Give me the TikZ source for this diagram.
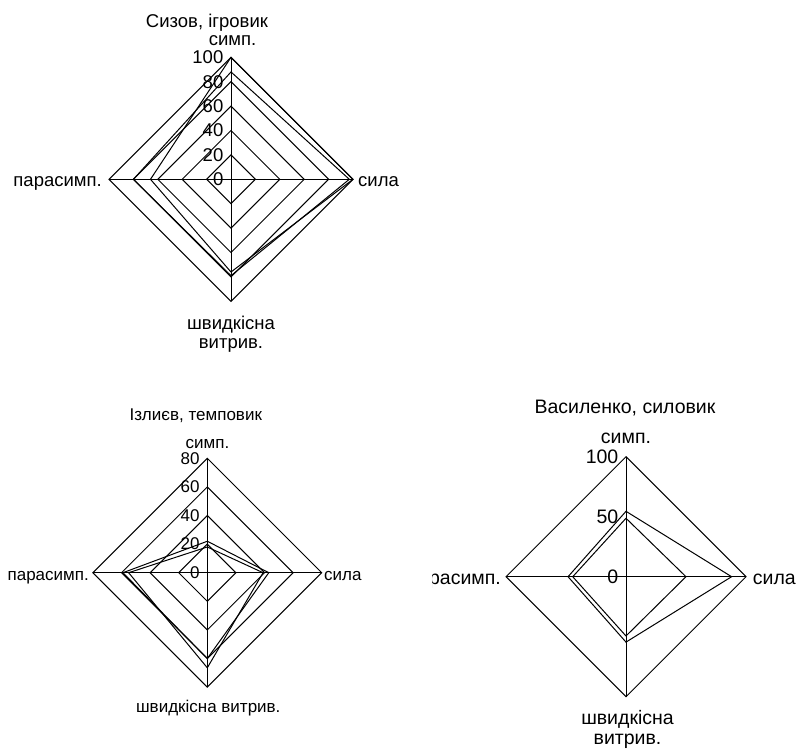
\documentclass[tikz,border=0pt]{standalone}
\usepackage{fontspec}
\setmainfont{Liberation Sans}
\begin{document}
\begin{tikzpicture}[x=1pt,y=-1pt,
  grid/.style={draw=black, line width=1pt, line join=miter},
  series/.style={draw=black, line width=1pt, line join=miter},
  ticklab/.style={anchor=east, inner sep=0pt, xshift=-7.5pt},
  lab/.style={inner sep=0pt}]
\useasboundingbox (0,0) rectangle (798,750);
\fill[white] (0,0) rectangle (798,750);

% ---------------- chart 1 ----------------
\begin{scope}[shift={(231,179.3)}, x=1.22pt, y=1.22pt, font=\fontsize{18.5}{21}\selectfont]
  \foreach \r in {20,40,60,80,100}
    \draw[grid] (0,\r) -- (\r,0) -- (0,-\r) -- (-\r,0) -- cycle;
  \draw[grid] (0,100) -- (0,-100) (-100,0) -- (100,0);
  \draw[series] (0,100) -- (100,0) -- (0,-76) -- (-66,0) -- cycle;
  \draw[series] (0,88) -- (97,0) -- (0,-79) -- (-80,0) -- cycle;
  \foreach \r in {0,20,40,60,80,100}
    \node[ticklab] (a1-\r) at (0,\r) {\r};
\end{scope}
\begin{scope}[font=\fontsize{18.5}{21}\selectfont]
  \node[lab, anchor=base] (t1title) at (207,27) {Сизов, ігровик};
  \node[lab, anchor=base] (t1s) at (232.5,45) {симп.};
  \node[lab, anchor=base east] (t1p) at (102,186) {парасимп.};
  \node[lab, anchor=base west] (t1f) at (358,186) {сила};
  \node[lab, anchor=base] (t1v1) at (231,329) {швидкісна};
  \node[lab, anchor=base] (t1v2) at (231,348.3) {витрив.};
\end{scope}

% ---------------- chart 2 ----------------
\begin{scope}[shift={(207.3,572.7)}, x=1.43pt, y=1.43pt, font=\fontsize{17}{20}\selectfont]
  \foreach \r in {20,40,60,80}
    \draw[grid] (0,\r) -- (\r,0) -- (0,-\r) -- (-\r,0) -- cycle;
  \draw[grid] (0,80) -- (0,-80) (-80,0) -- (80,0);
  \draw[series] (0,22) -- (43,0) -- (0,-60) -- (-59,0) -- cycle;
  \draw[series] (0,18) -- (39,0) -- (0,-66.5) -- (-55,0) -- cycle;
  \foreach \r in {0,20,40,60,80}
    \node[ticklab] (a2-\r) at (0,\r) {\r};
\end{scope}
\begin{scope}[font=\fontsize{17}{20}\selectfont]
  \node[lab, anchor=base] (t2title) at (195.8,420) {Ізлиєв, темповик};
  \node[lab, anchor=base] (t2s) at (207.5,448.3) {симп.};
  \node[lab, anchor=base east] (t2p) at (89,580) {парасимп.};
  \node[lab, anchor=base west] (t2f) at (324,580) {сила};
  \node[lab, anchor=base] (t2v) at (208.3,712) {швидкісна витрив.};
\end{scope}

% ---------------- chart 3 ----------------
\begin{scope}
  \clip (432,0) rectangle (798,750);
  \begin{scope}[shift={(626,576.7)}, x=1.2pt, y=1.2pt, font=\fontsize{19.5}{22}\selectfont]
    \draw[grid] (0,100) -- (100,0) -- (0,-100) -- (-100,0) -- cycle;
    \draw[grid] (0,100) -- (0,-100) (-100,0) -- (100,0);
    \draw[series] (0,48.7) -- (50,0) -- (0,-49.4) -- (-44.4,0) -- cycle;
    \draw[series] (0,54.5) -- (88,0) -- (0,-54.5) -- (-48.3,0) -- cycle;
    \foreach \r in {0,50,100}
      \node[ticklab] (a3-\r) at (0,\r) {\r};
  \end{scope}
  \begin{scope}[font=\fontsize{19.5}{22}\selectfont]
    \node[lab, anchor=base] (t3title) at (625,413.3) {Василенко, силовик};
    \node[lab, anchor=base] (t3s) at (626,443.3) {симп.};
    \node[lab, anchor=base east] (t3p) at (501,584) {парасимп.};
    \node[lab, anchor=base west] (t3f) at (752.7,584) {сила};
    \node[lab, anchor=base] (t3v1) at (627.5,724) {швидкісна};
    \node[lab, anchor=base] (t3v2) at (627.5,744) {витрив.};
  \end{scope}
\end{scope}
\end{tikzpicture}
\end{document}
